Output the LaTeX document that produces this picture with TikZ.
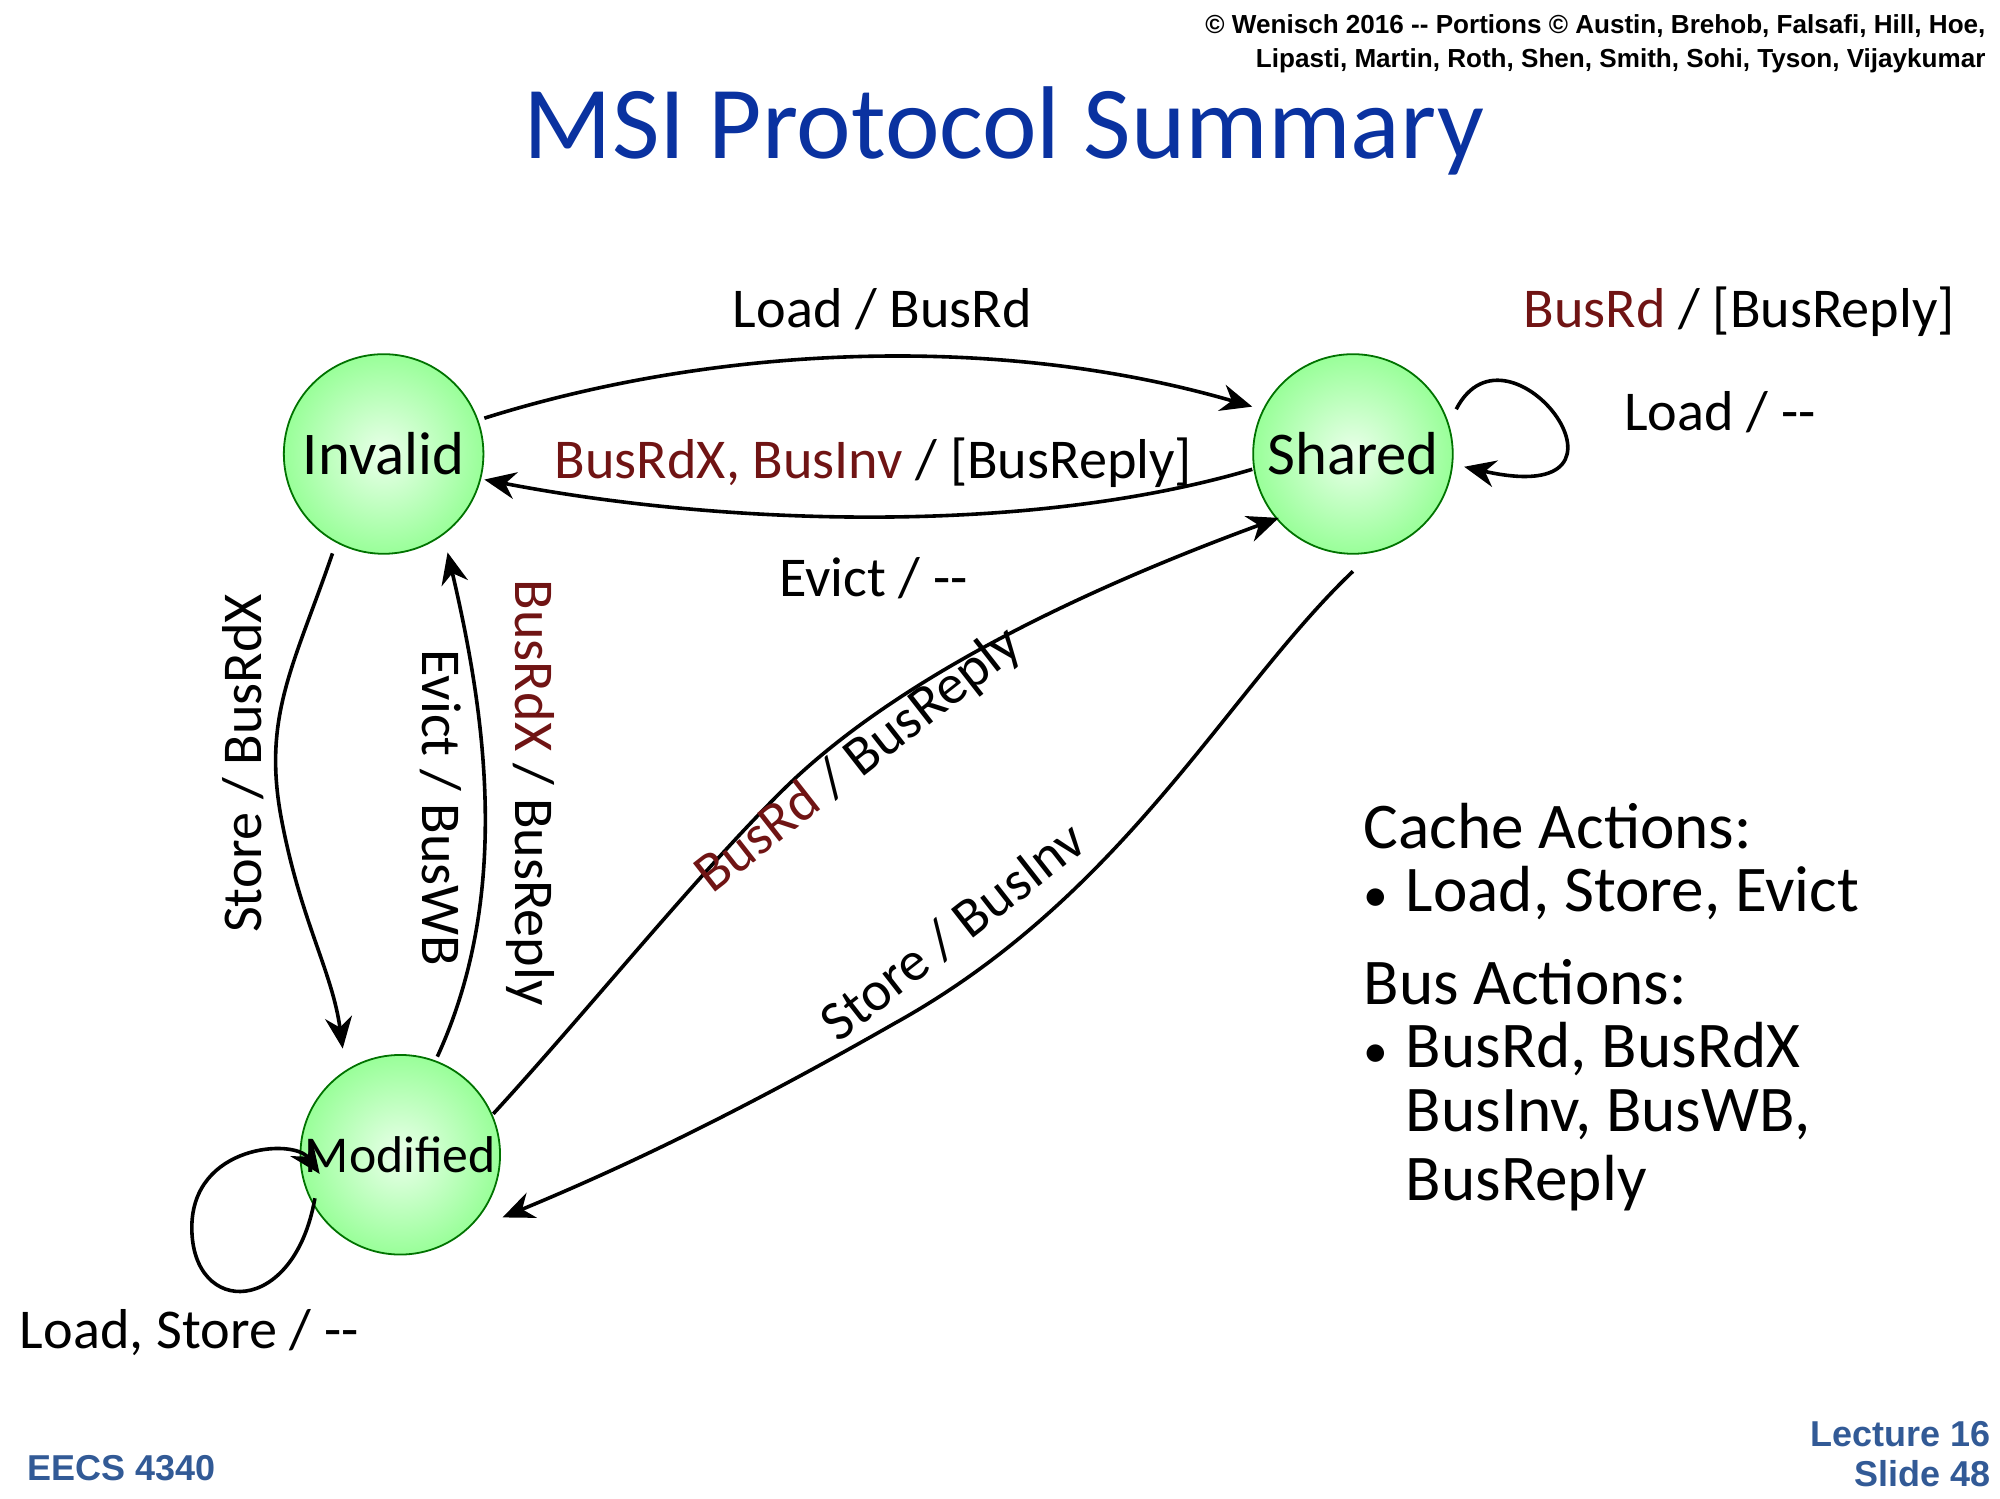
\documentclass[tikz,border=0pt]{standalone}
\usepackage{fontspec}
\setmainfont{Carlito}
\newfontfamily\footfont{Liberation Sans}
\usetikzlibrary{arrows.meta}
\definecolor{busred}{RGB}{112,20,20}
\definecolor{titleblue}{RGB}{10,50,160}
\definecolor{footblue}{RGB}{50,90,150}
\newcommand{\legbullet}{\makebox[0.33cm][l]{\fontsize{11}{12}\selectfont•}}
\begin{document}
\begin{tikzpicture}[x=0.01cm,y=-0.01cm,>={Stealth[length=7pt,width=6pt]},thick,
                    state/.style={circle,draw=green!45!black,thin,minimum size=1.56cm,inner sep=0pt,
                                  inner color=green!8,outer color=green!40!white,font=\fontsize{13.5}{16}\selectfont},
                    lbl/.style={font=\fontsize{12.5}{15}\selectfont},
                    legend/.style={font=\fontsize{14.5}{18}\selectfont,anchor=west,inner sep=0pt}]
  \useasboundingbox (0,0) rectangle (1564,1172);
  \node[state] (inv) at (300,355) {Invalid};
  \node[state] (sh)  at (1058,355) {Shared};
  \node[state,font=\fontsize{11.5}{14}\selectfont] (mod) at (313,903) {Modified};
  % transitions
  \draw[->] (inv.east) ++(0,-28) coordinate (a1) (a1) .. controls (560,270) and (780,260) .. (sh.west |- 0,318);
  \draw[->] (sh.west) ++(0,12) coordinate (a2) (a2) .. controls (800,420) and (560,410) .. (inv.east |- 0,375);
  \draw[->] (sh.east) ++(2,-35) coordinate (a3) (a3) .. controls (1180,240) and (1300,400) .. (1145,365);
  \draw[->] (inv.south) ++(-40,-1) coordinate (a4) (a4) .. controls (230,520) and (205,560) .. (220,640) .. controls (235,720) and (260,760) .. (268,820);
  \draw[->] (mod.north) ++(29,2) coordinate (a5) (a5) .. controls (400,700) and (380,560) .. (350,432);
  \draw[->] (mod.east) ++(-6,-32) coordinate (a6) (a6) .. controls (460,790) and (540,690) .. (610,620) .. controls (700,530) and (850,460) .. (1000,405);
  \draw[->] (sh.south) ++(0,13) coordinate (a7) (a7) .. controls (960,540) and (880,700) .. (700,800) .. controls (560,880) and (470,920) .. (393,952);
  \draw[->] (mod.west) ++(12,34) coordinate (a8) (a8) .. controls (230,1030) and (150,1030) .. (150,960) .. controls (150,895) and (230,890) .. (250,918);
  % labels
  \node[lbl] (l1) at (690,242) {Load / BusRd};
  \node[lbl] (l2) at (683,362) {\textcolor{busred}{BusRdX, BusInv} / [BusReply]};
  \node[lbl] (l3) at (683,452) {Evict / -{}-};
  \node[lbl] (l4) at (1360,244) {\textcolor{busred}{BusRd} / [BusReply]};
  \node[lbl] (l5) at (1345,322) {Load / -{}-};
  \node[lbl,rotate=90] (l6) at (190,597) {Store / BusRdX};
  \node[lbl,rotate=-90] (l7) at (345,632) {Evict / BusWB};
  \node[lbl,rotate=-90] (l8) at (415,620) {\textcolor{busred}{BusRdX} / BusReply};
  \node[lbl,rotate=38] (l9) at (672,595) {\textcolor{busred}{BusRd} / BusReply};
  \node[lbl,rotate=38] (l10) at (745,728) {Store / BusInv};
  \node[lbl] (l11) at (148,1042) {Load, Store / -{}-};
  % legend
  \node[legend] (c1) at (1065,646) {Cache Actions:};
  \node[legend] (c2) at (1065,698) {\legbullet Load, Store, Evict};
  \node[legend] (c3) at (1065,768) {Bus Actions:};
  \node[legend] (c4) at (1065,820) {\legbullet BusRd, BusRdX};
  \node[legend] (c5) at (1098,872) {BusInv, BusWB,};
  \node[legend] (c6) at (1098,925) {BusReply};
  % title and footer
  \node[font=\fontsize{23}{26}\selectfont,text=titleblue] (title) at (785,102) {MSI Protocol Summary};
  \node[font=\footfont\bfseries\fontsize{5.8}{7.5}\selectfont,align=right,anchor=north east,inner sep=0pt] (copy) at (1554,10)
    {© Wenisch 2016 -- Portions © Austin, Brehob, Falsafi, Hill, Hoe,\\Lipasti, Martin, Roth, Shen, Smith, Sohi, Tyson, Vijaykumar};
  \node[font=\footfont\bfseries\fontsize{8}{10}\selectfont,text=footblue,anchor=west,inner sep=0pt] (course) at (20,1148) {EECS 4340};
  \node[font=\footfont\bfseries\fontsize{8}{9}\selectfont,text=footblue,align=right,anchor=east,inner sep=0pt] (slide) at (1558,1137) {Lecture 16\\Slide 48};
\end{tikzpicture}
\end{document}
